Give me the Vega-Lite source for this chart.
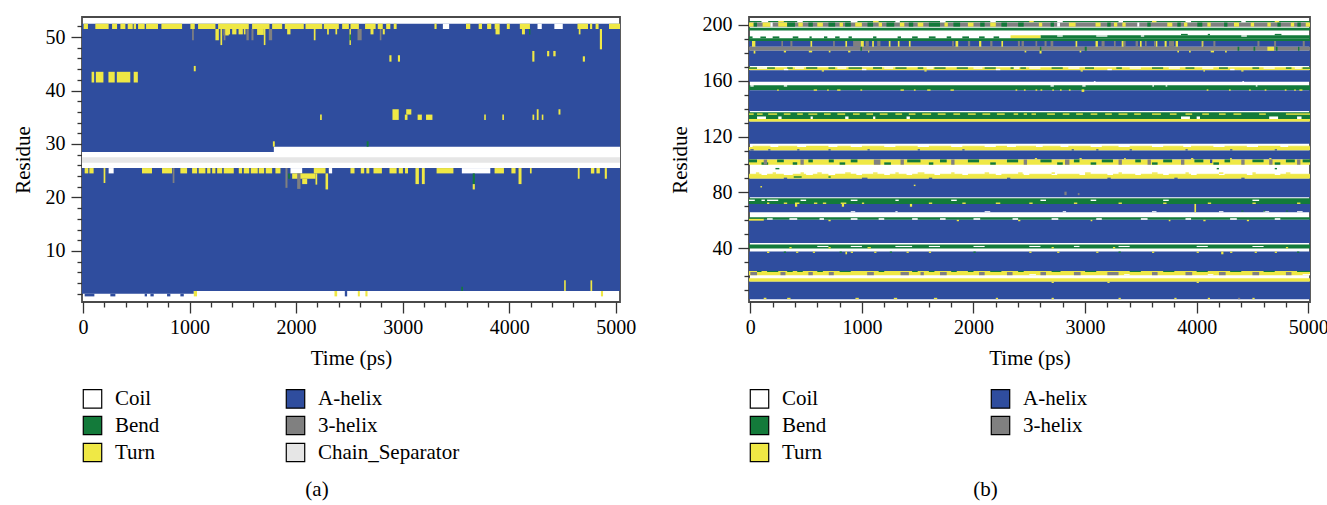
{
"$schema":"https://vega.github.io/schema/vega-lite/v6.json",
"background":"white",
"padding":{"left":11,"top":14,"right":15,"bottom":5},
"spacing":31,
"config":{"font":"Liberation Serif","view":{"stroke":"#4a4a4a","strokeWidth":1.8},
"axis":{"labelFont":"Liberation Serif","titleFont":"Liberation Serif","labelFontSize":20,"titleFontSize":21,"titleFontWeight":"normal","labelColor":"black","titleColor":"black","tickColor":"#333333","tickWidth":1.3,"domain":false,"grid":false,"labelOverlap":false,"labelFlush":false},
"legend":{"labelFont":"Liberation Serif","labelFontSize":21,"labelColor":"black","symbolType":"square","symbolStrokeColor":"black","symbolStrokeWidth":1.2,"symbolSize":340,"labelOffset":12,"rowPadding":2},
"title":{"font":"Liberation Serif","fontSize":21,"fontWeight":"normal","color":"black"}},
"resolve":{"scale":{"color":"independent"}},
"hconcat":[
{"width":538,"height":285,
"title":{"text":"(a)","orient":"bottom","anchor":"middle","dx":-34,"offset":14},
"data":{"values":[
{"ss":"A-helix","t0":-9,"t1":5039,"r0":2.5,"r1":52.5},
{"ss":"Coil","t0":-9,"t1":5039,"r0":25.5,"r1":28.5},
{"ss":"Coil","t0":1791,"t1":5039,"r0":28.5,"r1":29.5},
{"ss":"Chain_Separator","t0":-9,"t1":5039,"r0":26.5,"r1":27.5},
{"ss":"A-helix","t0":-9,"t1":1040,"r0":2.0,"r1":2.5},
{"ss":"A-helix","t0":16,"t1":107,"r0":1.5,"r1":2.0},
{"ss":"A-helix","t0":257,"t1":304,"r0":1.5,"r1":2.0},
{"ss":"A-helix","t0":579,"t1":601,"r0":1.5,"r1":2.0},
{"ss":"A-helix","t0":633,"t1":664,"r0":1.5,"r1":2.0},
{"ss":"A-helix","t0":789,"t1":820,"r0":1.5,"r1":2.0},
{"ss":"A-helix","t0":914,"t1":946,"r0":1.5,"r1":2.0},
{"ss":"Turn","t0":6,"t1":47,"r0":51.5,"r1":52.5},
{"ss":"Turn","t0":116,"t1":241,"r0":51.5,"r1":52.5},
{"ss":"Turn","t0":273,"t1":320,"r0":51.5,"r1":52.5},
{"ss":"Turn","t0":351,"t1":398,"r0":51.5,"r1":52.5},
{"ss":"Turn","t0":420,"t1":467,"r0":51.5,"r1":52.5},
{"ss":"Turn","t0":476,"t1":498,"r0":51.5,"r1":52.5},
{"ss":"Turn","t0":517,"t1":579,"r0":51.5,"r1":52.5},
{"ss":"Turn","t0":592,"t1":704,"r0":51.5,"r1":52.5},
{"ss":"Turn","t0":736,"t1":930,"r0":51.5,"r1":52.5},
{"ss":"Turn","t0":1008,"t1":1049,"r0":51.5,"r1":52.5},
{"ss":"Turn","t0":1080,"t1":1243,"r0":51.5,"r1":52.5},
{"ss":"Turn","t0":1268,"t1":1556,"r0":51.5,"r1":52.5},
{"ss":"Turn","t0":1587,"t1":1750,"r0":51.5,"r1":52.5},
{"ss":"Turn","t0":1775,"t1":1869,"r0":51.5,"r1":52.5},
{"ss":"Turn","t0":1894,"t1":2072,"r0":51.5,"r1":52.5},
{"ss":"Turn","t0":2088,"t1":2245,"r0":51.5,"r1":52.5},
{"ss":"Turn","t0":2260,"t1":2401,"r0":51.5,"r1":52.5},
{"ss":"Turn","t0":2432,"t1":2495,"r0":51.5,"r1":52.5},
{"ss":"Turn","t0":2510,"t1":2589,"r0":51.5,"r1":52.5},
{"ss":"Turn","t0":2647,"t1":2746,"r0":51.5,"r1":52.5},
{"ss":"Turn","t0":2766,"t1":2813,"r0":51.5,"r1":52.5},
{"ss":"Turn","t0":2845,"t1":2884,"r0":51.5,"r1":52.5},
{"ss":"Turn","t0":2916,"t1":2943,"r0":51.5,"r1":52.5},
{"ss":"Turn","t0":3298,"t1":3318,"r0":51.5,"r1":52.5},
{"ss":"Turn","t0":3594,"t1":3634,"r0":51.5,"r1":52.5},
{"ss":"Turn","t0":3713,"t1":3744,"r0":51.5,"r1":52.5},
{"ss":"Turn","t0":3792,"t1":3831,"r0":51.5,"r1":52.5},
{"ss":"Turn","t0":3863,"t1":3910,"r0":51.5,"r1":52.5},
{"ss":"Turn","t0":3977,"t1":4005,"r0":51.5,"r1":52.5},
{"ss":"Turn","t0":4099,"t1":4194,"r0":51.5,"r1":52.5},
{"ss":"Turn","t0":4640,"t1":4739,"r0":51.5,"r1":52.5},
{"ss":"Turn","t0":4758,"t1":4778,"r0":51.5,"r1":52.5},
{"ss":"Turn","t0":4810,"t1":4838,"r0":51.5,"r1":52.5},
{"ss":"Turn","t0":4936,"t1":5039,"r0":51.5,"r1":52.5},
{"ss":"Coil","t0":3377,"t1":3436,"r0":51.5,"r1":52.5},
{"ss":"Coil","t0":4265,"t1":4305,"r0":51.5,"r1":52.5},
{"ss":"Coil","t0":4423,"t1":4502,"r0":51.5,"r1":52.5},
{"ss":"Turn","t0":1243,"t1":1275,"r0":49.4,"r1":51.5},
{"ss":"Turn","t0":1290,"t1":1306,"r0":48.5,"r1":51.5},
{"ss":"3-helix","t0":1024,"t1":1040,"r0":49.4,"r1":51.5},
{"ss":"Turn","t0":1321,"t1":1368,"r0":50.3,"r1":51.5},
{"ss":"3-helix","t0":1321,"t1":1337,"r0":49.4,"r1":51.5},
{"ss":"Turn","t0":1337,"t1":1380,"r0":50.5,"r1":51.5},
{"ss":"Turn","t0":1400,"t1":1440,"r0":50.5,"r1":51.5},
{"ss":"Turn","t0":1460,"t1":1500,"r0":50.5,"r1":51.5},
{"ss":"Turn","t0":1510,"t1":1525,"r0":50.5,"r1":51.5},
{"ss":"3-helix","t0":1534,"t1":1556,"r0":49.4,"r1":51.5},
{"ss":"3-helix","t0":1581,"t1":1600,"r0":49.4,"r1":51.5},
{"ss":"Turn","t0":1634,"t1":1697,"r0":50.4,"r1":51.5},
{"ss":"Turn","t0":1697,"t1":1712,"r0":48.5,"r1":51.5},
{"ss":"3-helix","t0":1744,"t1":1775,"r0":49.4,"r1":51.5},
{"ss":"Turn","t0":1916,"t1":1947,"r0":50.5,"r1":51.5},
{"ss":"Turn","t0":2166,"t1":2182,"r0":49.4,"r1":51.5},
{"ss":"Turn","t0":2291,"t1":2307,"r0":50.5,"r1":51.5},
{"ss":"Turn","t0":2369,"t1":2385,"r0":50.5,"r1":51.5},
{"ss":"Turn","t0":2501,"t1":2514,"r0":48.5,"r1":51.5},
{"ss":"Bend","t0":2501,"t1":2514,"r0":49.4,"r1":50.5},
{"ss":"3-helix","t0":2576,"t1":2615,"r0":49.4,"r1":51.5},
{"ss":"Turn","t0":2698,"t1":2726,"r0":50.5,"r1":51.5},
{"ss":"3-helix","t0":2785,"t1":2800,"r0":49.4,"r1":51.5},
{"ss":"Turn","t0":2813,"t1":2832,"r0":50.5,"r1":51.5},
{"ss":"Turn","t0":3871,"t1":3910,"r0":50.5,"r1":51.5},
{"ss":"Turn","t0":4119,"t1":4147,"r0":50.5,"r1":51.5},
{"ss":"Turn","t0":4652,"t1":4668,"r0":50.5,"r1":51.5},
{"ss":"Turn","t0":4850,"t1":4870,"r0":47.7,"r1":51.5},
{"ss":"Bend","t0":4186,"t1":4198,"r0":50.5,"r1":51.5},
{"ss":"Turn","t0":81,"t1":105,"r0":41.5,"r1":43.5},
{"ss":"Turn","t0":121,"t1":192,"r0":41.5,"r1":43.5},
{"ss":"Turn","t0":239,"t1":298,"r0":41.5,"r1":43.5},
{"ss":"Turn","t0":318,"t1":444,"r0":41.5,"r1":43.5},
{"ss":"Turn","t0":476,"t1":515,"r0":41.5,"r1":43.5},
{"ss":"Turn","t0":1040,"t1":1058,"r0":43.6,"r1":44.6},
{"ss":"Turn","t0":2875,"t1":2895,"r0":45.4,"r1":46.6},
{"ss":"Turn","t0":2955,"t1":2975,"r0":45.4,"r1":46.6},
{"ss":"Turn","t0":4216,"t1":4236,"r0":45.4,"r1":47.4},
{"ss":"Turn","t0":4355,"t1":4375,"r0":46.4,"r1":47.4},
{"ss":"Turn","t0":4413,"t1":4435,"r0":46.4,"r1":47.4},
{"ss":"Turn","t0":4690,"t1":4710,"r0":45.4,"r1":46.4},
{"ss":"Turn","t0":2225,"t1":2241,"r0":34.5,"r1":35.5},
{"ss":"Turn","t0":2904,"t1":2963,"r0":34.5,"r1":36.5},
{"ss":"Turn","t0":3033,"t1":3081,"r0":35.5,"r1":36.5},
{"ss":"Turn","t0":3020,"t1":3045,"r0":34.5,"r1":35.5},
{"ss":"Turn","t0":3140,"t1":3180,"r0":34.5,"r1":35.5},
{"ss":"Turn","t0":3219,"t1":3279,"r0":34.5,"r1":35.5},
{"ss":"Turn","t0":3765,"t1":3780,"r0":34.5,"r1":35.5},
{"ss":"Turn","t0":3935,"t1":3950,"r0":34.5,"r1":35.5},
{"ss":"Turn","t0":4218,"t1":4234,"r0":34.5,"r1":35.5},
{"ss":"Turn","t0":4305,"t1":4320,"r0":34.5,"r1":35.5},
{"ss":"Turn","t0":4258,"t1":4275,"r0":34.5,"r1":36.5},
{"ss":"Turn","t0":4462,"t1":4480,"r0":35.5,"r1":36.5},
{"ss":"Turn","t0":1782,"t1":1800,"r0":29.5,"r1":30.5},
{"ss":"Bend","t0":2662,"t1":2680,"r0":29.5,"r1":30.5},
{"ss":"Turn","t0":16,"t1":50,"r0":24.5,"r1":25.5},
{"ss":"Turn","t0":60,"t1":100,"r0":24.5,"r1":25.5},
{"ss":"Turn","t0":194,"t1":210,"r0":22.7,"r1":25.5},
{"ss":"Coil","t0":241,"t1":288,"r0":24.5,"r1":25.5},
{"ss":"Turn","t0":554,"t1":648,"r0":24.5,"r1":25.5},
{"ss":"Turn","t0":742,"t1":836,"r0":24.5,"r1":25.5},
{"ss":"3-helix","t0":842,"t1":858,"r0":22.7,"r1":25.5},
{"ss":"Turn","t0":914,"t1":977,"r0":24.5,"r1":25.5},
{"ss":"Turn","t0":1024,"t1":1071,"r0":24.5,"r1":25.5},
{"ss":"Turn","t0":1086,"t1":1149,"r0":24.5,"r1":25.5},
{"ss":"Turn","t0":1165,"t1":1196,"r0":24.5,"r1":25.5},
{"ss":"Turn","t0":1212,"t1":1243,"r0":24.5,"r1":25.5},
{"ss":"Turn","t0":1259,"t1":1306,"r0":24.5,"r1":25.5},
{"ss":"Turn","t0":1321,"t1":1415,"r0":24.5,"r1":25.5},
{"ss":"Turn","t0":1462,"t1":1493,"r0":24.5,"r1":25.5},
{"ss":"Turn","t0":1509,"t1":1560,"r0":24.5,"r1":25.5},
{"ss":"Turn","t0":1575,"t1":1640,"r0":24.5,"r1":25.5},
{"ss":"Turn","t0":1650,"t1":1700,"r0":24.5,"r1":25.5},
{"ss":"Turn","t0":1715,"t1":1775,"r0":24.5,"r1":25.5},
{"ss":"Turn","t0":1806,"t1":1853,"r0":24.5,"r1":25.5},
{"ss":"3-helix","t0":1900,"t1":1919,"r0":21.8,"r1":25.5},
{"ss":"Coil","t0":1947,"t1":2057,"r0":24.5,"r1":25.5},
{"ss":"Turn","t0":1963,"t1":2182,"r0":23.5,"r1":24.5},
{"ss":"Bend","t0":1925,"t1":1941,"r0":23.5,"r1":24.5},
{"ss":"3-helix","t0":2010,"t1":2041,"r0":21.6,"r1":24.5},
{"ss":"Turn","t0":2057,"t1":2104,"r0":22.5,"r1":23.5},
{"ss":"Turn","t0":2166,"t1":2276,"r0":24.5,"r1":25.5},
{"ss":"Turn","t0":2182,"t1":2198,"r0":22.4,"r1":24.5},
{"ss":"Turn","t0":2276,"t1":2300,"r0":21.5,"r1":24.5},
{"ss":"Coil","t0":2307,"t1":2338,"r0":24.5,"r1":25.5},
{"ss":"Turn","t0":2510,"t1":2548,"r0":24.5,"r1":25.5},
{"ss":"Turn","t0":2607,"t1":2639,"r0":24.5,"r1":25.5},
{"ss":"Turn","t0":2659,"t1":2687,"r0":24.5,"r1":25.5},
{"ss":"Turn","t0":2726,"t1":2805,"r0":24.5,"r1":25.5},
{"ss":"Turn","t0":2876,"t1":2943,"r0":24.5,"r1":25.5},
{"ss":"Turn","t0":2963,"t1":3002,"r0":24.5,"r1":25.5},
{"ss":"Turn","t0":3022,"t1":3050,"r0":24.5,"r1":25.5},
{"ss":"Turn","t0":3120,"t1":3152,"r0":22.5,"r1":25.5},
{"ss":"Turn","t0":3180,"t1":3207,"r0":22.5,"r1":25.5},
{"ss":"Turn","t0":3318,"t1":3476,"r0":24.5,"r1":25.5},
{"ss":"Coil","t0":3555,"t1":3822,"r0":24.5,"r1":25.5},
{"ss":"Bend","t0":3657,"t1":3677,"r0":22.5,"r1":24.5},
{"ss":"Turn","t0":3657,"t1":3677,"r0":21.5,"r1":22.5},
{"ss":"Turn","t0":3862,"t1":3950,"r0":24.5,"r1":25.5},
{"ss":"Turn","t0":4020,"t1":4059,"r0":24.5,"r1":25.5},
{"ss":"Turn","t0":4087,"t1":4115,"r0":22.5,"r1":25.5},
{"ss":"Turn","t0":4194,"t1":4210,"r0":24.5,"r1":25.5},
{"ss":"Turn","t0":4643,"t1":4660,"r0":23.5,"r1":25.5},
{"ss":"Turn","t0":4766,"t1":4798,"r0":24.5,"r1":25.5},
{"ss":"Turn","t0":4818,"t1":4850,"r0":24.5,"r1":25.5},
{"ss":"Turn","t0":4896,"t1":4916,"r0":23.5,"r1":25.5},
{"ss":"Turn","t0":1040,"t1":1070,"r0":1.5,"r1":2.5},
{"ss":"Turn","t0":2360,"t1":2385,"r0":1.5,"r1":2.5},
{"ss":"A-helix","t0":2457,"t1":2479,"r0":1.5,"r1":2.5},
{"ss":"Turn","t0":2579,"t1":2598,"r0":1.5,"r1":2.5},
{"ss":"Turn","t0":2650,"t1":2670,"r0":1.5,"r1":2.5},
{"ss":"Turn","t0":4860,"t1":4880,"r0":1.5,"r1":2.5},
{"ss":"Turn","t0":4515,"t1":4530,"r0":2.5,"r1":4.5},
{"ss":"Turn","t0":4762,"t1":4778,"r0":2.5,"r1":4.5},
{"ss":"Bend","t0":3550,"t1":3565,"r0":2.5,"r1":3.3}
]},
"mark":{"type":"rect","strokeWidth":0,"clip":true},
"encoding":{
"x":{"field":"t0","type":"quantitative","scale":{"domain":[-9,5039],"nice":false,"zero":false},
"axis":{"title":"Time (ps)","values":[0,200,400,600,800,1000,1200,1400,1600,1800,2000,2200,2400,2600,2800,3000,3200,3400,3600,3800,4000,4200,4400,4600,4800,5000],"format":"d","labelExpr":"datum.value % 1000 === 0 ? datum.label : ''","tickSize":{"condition":{"test":"datum.value % 1000 === 0","value":11},"value":5},"labelPadding":4,"titlePadding":10}},
"x2":{"field":"t1"},
"y":{"field":"r0","type":"quantitative","scale":{"domain":[0.45,53.75],"nice":false,"zero":false},
"axis":{"title":"Residue","values":[2,4,6,8,10,12,14,16,18,20,22,24,26,28,30,32,34,36,38,40,42,44,46,48,50,52],"format":"d","labelExpr":"datum.value % 10 === 0 ? datum.label : ''","tickSize":{"condition":{"test":"datum.value % 10 === 0","value":11},"value":5},"labelPadding":6,"titlePadding":12}},
"y2":{"field":"r1"},
"color":{"field":"ss","type":"nominal","scale":{"domain":["Coil","Bend","Turn","A-helix","3-helix","Chain_Separator"],"range":["#ffffff","#137a3a","#efe845","#2f4d9e","#808080","#e6e6e6"]},
"legend":{"title":null,"orient":"none","legendX":0,"legendY":371,"columns":2,"columnPadding":123}}
}},
{"width":561,"height":285,
"title":{"text":"(b)","orient":"bottom","anchor":"middle","dx":-44,"offset":14},
"data":{"values":[
{"ss":"Bend","t0":-12,"t1":5016,"r0":201.9,"r1":202.9},
{"ss":"3-helix","t0":-12,"t1":5016,"r0":198.8,"r1":201.7},
{"ss":"Bend","t0":-12,"t1":5016,"r0":196,"r1":198},
{"ss":"Bend","t0":2600,"t1":5016,"r0":190.4,"r1":192.6},
{"ss":"Turn","t0":2332,"t1":2600,"r0":190.4,"r1":192.6},
{"ss":"Bend","t0":-12,"t1":5016,"r0":188.5,"r1":190.4},
{"ss":"A-helix","t0":-12,"t1":5016,"r0":184.4,"r1":188.5},
{"ss":"3-helix","t0":-12,"t1":5016,"r0":181.5,"r1":184.4},
{"ss":"A-helix","t0":-12,"t1":5016,"r0":170.5,"r1":181.5},
{"ss":"Turn","t0":-12,"t1":5016,"r0":167.6,"r1":169.6},
{"ss":"A-helix","t0":-12,"t1":5016,"r0":159.2,"r1":167.6},
{"ss":"Bend","t0":-12,"t1":5016,"r0":153.2,"r1":156.8},
{"ss":"A-helix","t0":-12,"t1":5016,"r0":138.3,"r1":153.2},
{"ss":"Bend","t0":-12,"t1":5016,"r0":132.6,"r1":137.4},
{"ss":"Turn","t0":-12,"t1":5016,"r0":130.7,"r1":132.6},
{"ss":"A-helix","t0":-12,"t1":5016,"r0":114.9,"r1":130.7},
{"ss":"Turn","t0":-12,"t1":5016,"r0":110,"r1":112.6},
{"ss":"A-helix","t0":-12,"t1":5016,"r0":103.6,"r1":110},
{"ss":"Turn","t0":-12,"t1":5016,"r0":99.8,"r1":103.6},
{"ss":"Turn","t0":-12,"t1":5016,"r0":89.7,"r1":92.5},
{"ss":"A-helix","t0":-12,"t1":5016,"r0":76.5,"r1":89.7},
{"ss":"Bend","t0":-12,"t1":5016,"r0":71.7,"r1":75.8},
{"ss":"A-helix","t0":-12,"t1":5016,"r0":65.7,"r1":71.7},
{"ss":"Bend","t0":-12,"t1":5016,"r0":60.3,"r1":62.1},
{"ss":"A-helix","t0":-12,"t1":5016,"r0":43.7,"r1":60.3},
{"ss":"Bend","t0":-12,"t1":5016,"r0":39.8,"r1":42.7},
{"ss":"A-helix","t0":-12,"t1":5016,"r0":23.7,"r1":37.6},
{"ss":"Turn","t0":-12,"t1":5016,"r0":20.6,"r1":23.7},
{"ss":"Turn","t0":-12,"t1":5016,"r0":16,"r1":18.5},
{"ss":"A-helix","t0":-12,"t1":5016,"r0":3.4,"r1":16},
{"ss":"Coil","t0":100,"t1":160,"r0":201.9,"r1":202.9},
{"ss":"Coil","t0":420,"t1":470,"r0":201.9,"r1":202.9},
{"ss":"Coil","t0":900,"t1":960,"r0":201.9,"r1":202.9},
{"ss":"Coil","t0":1300,"t1":1340,"r0":201.9,"r1":202.9},
{"ss":"Coil","t0":1700,"t1":1750,"r0":201.9,"r1":202.9},
{"ss":"Coil","t0":2150,"t1":2200,"r0":201.9,"r1":202.9},
{"ss":"Coil","t0":2750,"t1":2800,"r0":201.9,"r1":202.9},
{"ss":"Coil","t0":3300,"t1":3340,"r0":201.9,"r1":202.9},
{"ss":"Coil","t0":3900,"t1":3950,"r0":201.9,"r1":202.9},
{"ss":"Coil","t0":4400,"t1":4440,"r0":201.9,"r1":202.9},
{"ss":"Turn","t0":250,"t1":300,"r0":201.9,"r1":202.9},
{"ss":"Turn","t0":1100,"t1":1150,"r0":201.9,"r1":202.9},
{"ss":"Turn","t0":2500,"t1":2540,"r0":201.9,"r1":202.9},
{"ss":"Turn","t0":3600,"t1":3640,"r0":201.9,"r1":202.9},
{"ss":"Turn","t0":4700,"t1":4740,"r0":201.9,"r1":202.9},
{"ss":"Turn","t0":-12,"t1":30,"r0":198.8,"r1":201.7},
{"ss":"Turn","t0":110,"t1":180,"r0":198.8,"r1":201.7},
{"ss":"Turn","t0":250,"t1":330,"r0":198.8,"r1":201.7},
{"ss":"Turn","t0":430,"t1":470,"r0":198.8,"r1":201.7},
{"ss":"Turn","t0":600,"t1":650,"r0":198.8,"r1":201.7},
{"ss":"Turn","t0":800,"t1":830,"r0":198.8,"r1":201.7},
{"ss":"Turn","t0":940,"t1":1000,"r0":198.8,"r1":201.7},
{"ss":"Turn","t0":1150,"t1":1180,"r0":198.8,"r1":201.7},
{"ss":"Turn","t0":1340,"t1":1380,"r0":198.8,"r1":201.7},
{"ss":"Turn","t0":1500,"t1":1550,"r0":198.8,"r1":201.7},
{"ss":"Turn","t0":1740,"t1":1770,"r0":198.8,"r1":201.7},
{"ss":"Turn","t0":1950,"t1":2000,"r0":198.8,"r1":201.7},
{"ss":"Turn","t0":2150,"t1":2200,"r0":198.8,"r1":201.7},
{"ss":"Turn","t0":2586,"t1":2616,"r0":198.8,"r1":201.7},
{"ss":"Turn","t0":2855,"t1":2915,"r0":198.8,"r1":201.7},
{"ss":"Turn","t0":3094,"t1":3139,"r0":198.8,"r1":201.7},
{"ss":"Turn","t0":3259,"t1":3289,"r0":198.8,"r1":201.7},
{"ss":"Turn","t0":3334,"t1":3364,"r0":198.8,"r1":201.7},
{"ss":"Turn","t0":3737,"t1":3782,"r0":198.8,"r1":201.7},
{"ss":"Turn","t0":3887,"t1":3917,"r0":198.8,"r1":201.7},
{"ss":"Turn","t0":4096,"t1":4126,"r0":198.8,"r1":201.7},
{"ss":"Turn","t0":4335,"t1":4380,"r0":198.8,"r1":201.7},
{"ss":"Turn","t0":4485,"t1":4515,"r0":198.8,"r1":201.7},
{"ss":"Turn","t0":4634,"t1":4664,"r0":198.8,"r1":201.7},
{"ss":"Turn","t0":4844,"t1":4874,"r0":198.8,"r1":201.7},
{"ss":"Turn","t0":4978,"t1":5016,"r0":198.8,"r1":201.7},
{"ss":"Bend","t0":30,"t1":60,"r0":198.8,"r1":201.7},
{"ss":"Bend","t0":330,"t1":400,"r0":198.8,"r1":201.7},
{"ss":"Bend","t0":520,"t1":560,"r0":198.8,"r1":201.7},
{"ss":"Bend","t0":700,"t1":760,"r0":198.8,"r1":201.7},
{"ss":"Bend","t0":850,"t1":900,"r0":198.8,"r1":201.7},
{"ss":"Bend","t0":1050,"t1":1100,"r0":198.8,"r1":201.7},
{"ss":"Bend","t0":1220,"t1":1290,"r0":198.8,"r1":201.7},
{"ss":"Bend","t0":1420,"t1":1460,"r0":198.8,"r1":201.7},
{"ss":"Bend","t0":1600,"t1":1700,"r0":198.8,"r1":201.7},
{"ss":"Bend","t0":1820,"t1":1880,"r0":198.8,"r1":201.7},
{"ss":"Bend","t0":2060,"t1":2100,"r0":198.8,"r1":201.7},
{"ss":"Bend","t0":2250,"t1":2300,"r0":198.8,"r1":201.7},
{"ss":"Bend","t0":2400,"t1":2450,"r0":198.8,"r1":201.7},
{"ss":"Bend","t0":2691,"t1":2721,"r0":198.8,"r1":201.7},
{"ss":"Bend","t0":3199,"t1":3229,"r0":198.8,"r1":201.7},
{"ss":"Bend","t0":3558,"t1":3588,"r0":198.8,"r1":201.7},
{"ss":"Bend","t0":3827,"t1":3857,"r0":198.8,"r1":201.7},
{"ss":"Bend","t0":4006,"t1":4051,"r0":198.8,"r1":201.7},
{"ss":"Bend","t0":4246,"t1":4276,"r0":198.8,"r1":201.7},
{"ss":"Bend","t0":4724,"t1":4754,"r0":198.8,"r1":201.7},
{"ss":"Bend","t0":4903,"t1":4933,"r0":198.8,"r1":201.7},
{"ss":"Coil","t0":180,"t1":200,"r0":198.8,"r1":201.7},
{"ss":"Coil","t0":2750,"t1":2775,"r0":198.8,"r1":201.7},
{"ss":"Coil","t0":3468,"t1":3486,"r0":198.8,"r1":201.7},
{"ss":"Bend","t0":-12,"t1":20,"r0":190.4,"r1":191.8},
{"ss":"Bend","t0":90,"t1":140,"r0":190.4,"r1":191.8},
{"ss":"Bend","t0":200,"t1":260,"r0":190.4,"r1":191.8},
{"ss":"Bend","t0":380,"t1":430,"r0":190.4,"r1":191.8},
{"ss":"Bend","t0":530,"t1":550,"r0":190.4,"r1":191.8},
{"ss":"Bend","t0":660,"t1":690,"r0":190.4,"r1":191.8},
{"ss":"Bend","t0":760,"t1":800,"r0":190.4,"r1":191.8},
{"ss":"Bend","t0":880,"t1":910,"r0":190.4,"r1":191.8},
{"ss":"Bend","t0":1100,"t1":1130,"r0":190.4,"r1":191.8},
{"ss":"Bend","t0":1320,"t1":1350,"r0":190.4,"r1":191.8},
{"ss":"Bend","t0":1450,"t1":1500,"r0":190.4,"r1":191.8},
{"ss":"Bend","t0":1600,"t1":1660,"r0":190.4,"r1":191.8},
{"ss":"Bend","t0":1760,"t1":1800,"r0":190.4,"r1":191.8},
{"ss":"Bend","t0":1900,"t1":1960,"r0":190.4,"r1":191.8},
{"ss":"Bend","t0":2050,"t1":2100,"r0":190.4,"r1":191.8},
{"ss":"Bend","t0":2180,"t1":2230,"r0":190.4,"r1":191.8},
{"ss":"Coil","t0":2750,"t1":2800,"r0":191.6,"r1":192.6},
{"ss":"Coil","t0":3100,"t1":3200,"r0":191.6,"r1":192.6},
{"ss":"Coil","t0":3500,"t1":3530,"r0":191.6,"r1":192.6},
{"ss":"Coil","t0":4400,"t1":4450,"r0":191.6,"r1":192.6},
{"ss":"Bend","t0":3860,"t1":3920,"r0":192.6,"r1":193.6},
{"ss":"Bend","t0":4100,"t1":4120,"r0":192.6,"r1":193.6},
{"ss":"Bend","t0":4700,"t1":4760,"r0":192.6,"r1":193.6},
{"ss":"Turn","t0":15,"t1":45,"r0":184.4,"r1":188.5},
{"ss":"Turn","t0":539,"t1":554,"r0":184.4,"r1":188.5},
{"ss":"Turn","t0":852,"t1":867,"r0":184.4,"r1":188.5},
{"ss":"Turn","t0":987,"t1":1017,"r0":184.4,"r1":188.5},
{"ss":"Turn","t0":1092,"t1":1107,"r0":184.4,"r1":188.5},
{"ss":"Turn","t0":1241,"t1":1256,"r0":184.4,"r1":188.5},
{"ss":"Turn","t0":1322,"t1":1337,"r0":184.4,"r1":188.5},
{"ss":"Turn","t0":1421,"t1":1436,"r0":184.4,"r1":188.5},
{"ss":"Turn","t0":1839,"t1":1863,"r0":184.4,"r1":188.5},
{"ss":"Turn","t0":2050,"t1":2070,"r0":184.4,"r1":188.5},
{"ss":"Turn","t0":2250,"t1":2265,"r0":184.4,"r1":188.5},
{"ss":"Turn","t0":2915,"t1":2930,"r0":184.4,"r1":188.5},
{"ss":"Turn","t0":3094,"t1":3115,"r0":184.4,"r1":188.5},
{"ss":"Turn","t0":3328,"t1":3346,"r0":184.4,"r1":188.5},
{"ss":"Turn","t0":3492,"t1":3507,"r0":184.4,"r1":188.5},
{"ss":"Turn","t0":3633,"t1":3648,"r0":184.4,"r1":188.5},
{"ss":"Turn","t0":3713,"t1":3731,"r0":184.4,"r1":188.5},
{"ss":"Turn","t0":3812,"t1":3833,"r0":184.4,"r1":188.5},
{"ss":"Turn","t0":4045,"t1":4056,"r0":184.4,"r1":188.5},
{"ss":"3-helix","t0":278,"t1":293,"r0":184.4,"r1":188.5},
{"ss":"3-helix","t0":359,"t1":377,"r0":184.4,"r1":188.5},
{"ss":"3-helix","t0":742,"t1":757,"r0":184.4,"r1":188.5},
{"ss":"3-helix","t0":921,"t1":987,"r0":184.4,"r1":188.5},
{"ss":"3-helix","t0":1032,"t1":1062,"r0":184.4,"r1":188.5},
{"ss":"3-helix","t0":1137,"t1":1166,"r0":184.4,"r1":188.5},
{"ss":"3-helix","t0":1809,"t1":1824,"r0":184.4,"r1":188.5},
{"ss":"3-helix","t0":1950,"t1":1970,"r0":184.4,"r1":188.5},
{"ss":"3-helix","t0":2150,"t1":2170,"r0":184.4,"r1":188.5},
{"ss":"3-helix","t0":2398,"t1":2416,"r0":184.4,"r1":188.5},
{"ss":"3-helix","t0":2431,"t1":2452,"r0":184.4,"r1":188.5},
{"ss":"3-helix","t0":2556,"t1":2571,"r0":184.4,"r1":188.5},
{"ss":"3-helix","t0":2637,"t1":2655,"r0":184.4,"r1":188.5},
{"ss":"3-helix","t0":2691,"t1":2715,"r0":184.4,"r1":188.5},
{"ss":"3-helix","t0":3148,"t1":3175,"r0":184.4,"r1":188.5},
{"ss":"3-helix","t0":3259,"t1":3274,"r0":184.4,"r1":188.5},
{"ss":"3-helix","t0":3346,"t1":3364,"r0":184.4,"r1":188.5},
{"ss":"3-helix","t0":3453,"t1":3474,"r0":184.4,"r1":188.5},
{"ss":"3-helix","t0":3537,"t1":3552,"r0":184.4,"r1":188.5},
{"ss":"3-helix","t0":3618,"t1":3633,"r0":184.4,"r1":188.5},
{"ss":"3-helix","t0":3752,"t1":3797,"r0":184.4,"r1":188.5},
{"ss":"3-helix","t0":4056,"t1":4066,"r0":184.4,"r1":188.5},
{"ss":"3-helix","t0":4150,"t1":4168,"r0":184.4,"r1":188.5},
{"ss":"3-helix","t0":4545,"t1":4563,"r0":184.4,"r1":188.5},
{"ss":"3-helix","t0":4694,"t1":4712,"r0":184.4,"r1":188.5},
{"ss":"3-helix","t0":4951,"t1":4969,"r0":184.4,"r1":188.5},
{"ss":"Bend","t0":987,"t1":1000,"r0":181.5,"r1":184.4},
{"ss":"Bend","t0":2595,"t1":2608,"r0":181.5,"r1":184.4},
{"ss":"Bend","t0":2997,"t1":3015,"r0":181.5,"r1":184.4},
{"ss":"Bend","t0":4367,"t1":4382,"r0":181.5,"r1":184.4},
{"ss":"Bend","t0":4510,"t1":4525,"r0":181.5,"r1":184.4},
{"ss":"Turn","t0":4634,"t1":4694,"r0":181.5,"r1":184.4},
{"ss":"Bend","t0":4710,"t1":4725,"r0":181.5,"r1":184.4},
{"ss":"Bend","t0":4909,"t1":4921,"r0":181.5,"r1":184.4},
{"ss":"Turn","t0":30,"t1":45,"r0":179.5,"r1":181.5},
{"ss":"Turn","t0":300,"t1":320,"r0":180.3,"r1":181.5},
{"ss":"Turn","t0":524,"t1":554,"r0":180.3,"r1":181.5},
{"ss":"Turn","t0":703,"t1":718,"r0":180.3,"r1":181.5},
{"ss":"Turn","t0":876,"t1":897,"r0":180.3,"r1":181.5},
{"ss":"Turn","t0":1056,"t1":1066,"r0":180.3,"r1":181.5},
{"ss":"Turn","t0":2458,"t1":2473,"r0":180.3,"r1":181.5},
{"ss":"Turn","t0":2592,"t1":2610,"r0":179.5,"r1":181.5},
{"ss":"Turn","t0":2951,"t1":2966,"r0":180.3,"r1":181.5},
{"ss":"Turn","t0":3827,"t1":3842,"r0":180.3,"r1":181.5},
{"ss":"Turn","t0":3932,"t1":3947,"r0":180.3,"r1":181.5},
{"ss":"Turn","t0":4126,"t1":4156,"r0":180.3,"r1":181.5},
{"ss":"Turn","t0":4255,"t1":4270,"r0":180.3,"r1":181.5},
{"ss":"Bend","t0":-12,"t1":60,"r0":168.6,"r1":169.6},
{"ss":"Bend","t0":150,"t1":220,"r0":168.6,"r1":169.6},
{"ss":"Bend","t0":330,"t1":380,"r0":168.6,"r1":169.6},
{"ss":"Bend","t0":500,"t1":600,"r0":168.6,"r1":169.6},
{"ss":"Bend","t0":700,"t1":760,"r0":168.6,"r1":169.6},
{"ss":"Bend","t0":880,"t1":1000,"r0":168.6,"r1":169.6},
{"ss":"Bend","t0":1100,"t1":1180,"r0":168.6,"r1":169.6},
{"ss":"Bend","t0":1300,"t1":1400,"r0":168.6,"r1":169.6},
{"ss":"Bend","t0":1500,"t1":1550,"r0":168.6,"r1":169.6},
{"ss":"Bend","t0":1650,"t1":1750,"r0":168.6,"r1":169.6},
{"ss":"Bend","t0":1850,"t1":1950,"r0":168.6,"r1":169.6},
{"ss":"Bend","t0":2100,"t1":2200,"r0":168.6,"r1":169.6},
{"ss":"Bend","t0":2332,"t1":2360,"r0":168.6,"r1":169.6},
{"ss":"Bend","t0":2420,"t1":2470,"r0":168.6,"r1":169.6},
{"ss":"Bend","t0":2700,"t1":2800,"r0":168.6,"r1":169.6},
{"ss":"Bend","t0":3000,"t1":3080,"r0":168.6,"r1":169.6},
{"ss":"Bend","t0":3280,"t1":3330,"r0":168.6,"r1":169.6},
{"ss":"Bend","t0":3600,"t1":3700,"r0":168.6,"r1":169.6},
{"ss":"Bend","t0":3900,"t1":3980,"r0":168.6,"r1":169.6},
{"ss":"Bend","t0":4200,"t1":4280,"r0":168.6,"r1":169.6},
{"ss":"Bend","t0":4500,"t1":4560,"r0":168.6,"r1":169.6},
{"ss":"Bend","t0":4800,"t1":4850,"r0":168.6,"r1":169.6},
{"ss":"Bend","t0":4950,"t1":5016,"r0":168.6,"r1":169.6},
{"ss":"Coil","t0":60,"t1":150,"r0":168.6,"r1":169.6},
{"ss":"Coil","t0":400,"t1":480,"r0":168.6,"r1":169.6},
{"ss":"Coil","t0":780,"t1":860,"r0":168.6,"r1":169.6},
{"ss":"Coil","t0":1200,"t1":1280,"r0":168.6,"r1":169.6},
{"ss":"Coil","t0":1580,"t1":1640,"r0":168.6,"r1":169.6},
{"ss":"Coil","t0":2000,"t1":2080,"r0":168.6,"r1":169.6},
{"ss":"Coil","t0":2362,"t1":2410,"r0":168.6,"r1":169.6},
{"ss":"Coil","t0":2500,"t1":2600,"r0":168.6,"r1":169.6},
{"ss":"Coil","t0":2850,"t1":2950,"r0":168.6,"r1":169.6},
{"ss":"Coil","t0":3400,"t1":3500,"r0":168.6,"r1":169.6},
{"ss":"Coil","t0":3750,"t1":3850,"r0":168.6,"r1":169.6},
{"ss":"Coil","t0":4050,"t1":4150,"r0":168.6,"r1":169.6},
{"ss":"Coil","t0":4600,"t1":4700,"r0":168.6,"r1":169.6},
{"ss":"Coil","t0":4880,"t1":4940,"r0":168.6,"r1":169.6},
{"ss":"Coil","t0":300,"t1":340,"r0":167.6,"r1":168.6},
{"ss":"Coil","t0":1000,"t1":1040,"r0":167.6,"r1":168.6},
{"ss":"Coil","t0":2200,"t1":2240,"r0":167.6,"r1":168.6},
{"ss":"Coil","t0":3200,"t1":3240,"r0":167.6,"r1":168.6},
{"ss":"Coil","t0":4300,"t1":4340,"r0":167.6,"r1":168.6},
{"ss":"Turn","t0":640,"t1":660,"r0":166.6,"r1":167.6},
{"ss":"Turn","t0":1560,"t1":1580,"r0":166.6,"r1":167.6},
{"ss":"Turn","t0":2960,"t1":2980,"r0":166.6,"r1":167.6},
{"ss":"Turn","t0":4060,"t1":4075,"r0":166.6,"r1":167.6},
{"ss":"Turn","t0":4400,"t1":4420,"r0":166.6,"r1":167.6},
{"ss":"Coil","t0":3079,"t1":3094,"r0":159.2,"r1":159.8},
{"ss":"Coil","t0":4410,"t1":4425,"r0":159.2,"r1":159.8},
{"ss":"Turn","t0":240,"t1":255,"r0":152.8,"r1":153.8},
{"ss":"Turn","t0":568,"t1":598,"r0":152.8,"r1":153.8},
{"ss":"Turn","t0":688,"t1":703,"r0":152.8,"r1":153.8},
{"ss":"Turn","t0":778,"t1":808,"r0":152.8,"r1":153.8},
{"ss":"Turn","t0":987,"t1":1002,"r0":152.8,"r1":153.8},
{"ss":"Turn","t0":1346,"t1":1376,"r0":152.8,"r1":153.8},
{"ss":"Turn","t0":1466,"t1":1481,"r0":152.8,"r1":153.8},
{"ss":"Turn","t0":1585,"t1":1615,"r0":152.8,"r1":153.8},
{"ss":"Turn","t0":1794,"t1":1824,"r0":152.8,"r1":153.8},
{"ss":"Turn","t0":2377,"t1":2392,"r0":152.8,"r1":153.8},
{"ss":"Turn","t0":2452,"t1":2467,"r0":152.8,"r1":153.8},
{"ss":"Turn","t0":2556,"t1":2571,"r0":152.8,"r1":153.8},
{"ss":"Turn","t0":2601,"t1":2616,"r0":152.8,"r1":153.8},
{"ss":"Turn","t0":2706,"t1":2721,"r0":152.8,"r1":153.8},
{"ss":"Turn","t0":2775,"t1":2790,"r0":152.8,"r1":153.8},
{"ss":"Turn","t0":2855,"t1":2870,"r0":152.8,"r1":153.8},
{"ss":"Turn","t0":2969,"t1":2993,"r0":152,"r1":153.8},
{"ss":"Turn","t0":4090,"t1":4105,"r0":152.8,"r1":153.8},
{"ss":"Turn","t0":4290,"t1":4305,"r0":152.8,"r1":153.8},
{"ss":"Turn","t0":4470,"t1":4485,"r0":152.8,"r1":153.8},
{"ss":"Turn","t0":4610,"t1":4625,"r0":152.8,"r1":153.8},
{"ss":"Turn","t0":4790,"t1":4805,"r0":152.8,"r1":153.8},
{"ss":"Turn","t0":4874,"t1":4889,"r0":152.8,"r1":153.8},
{"ss":"Turn","t0":4921,"t1":4948,"r0":152.8,"r1":153.8},
{"ss":"Coil","t0":0,"t1":30,"r0":155.8,"r1":156.8},
{"ss":"Coil","t0":300,"t1":330,"r0":155.8,"r1":156.8},
{"ss":"Coil","t0":2690,"t1":2720,"r0":155.8,"r1":156.8},
{"ss":"Coil","t0":2975,"t1":3005,"r0":155.8,"r1":156.8},
{"ss":"Coil","t0":3603,"t1":3618,"r0":155.8,"r1":156.8},
{"ss":"Coil","t0":3722,"t1":3737,"r0":155.8,"r1":156.8},
{"ss":"Coil","t0":4530,"t1":4545,"r0":155.8,"r1":156.8},
{"ss":"Turn","t0":-12,"t1":30,"r0":135.6,"r1":136.6},
{"ss":"Turn","t0":60,"t1":110,"r0":135.6,"r1":136.6},
{"ss":"Turn","t0":160,"t1":240,"r0":135.6,"r1":136.6},
{"ss":"Turn","t0":300,"t1":360,"r0":135.6,"r1":136.6},
{"ss":"Turn","t0":420,"t1":470,"r0":135.6,"r1":136.6},
{"ss":"Turn","t0":520,"t1":600,"r0":135.6,"r1":136.6},
{"ss":"Turn","t0":660,"t1":720,"r0":135.6,"r1":136.6},
{"ss":"Turn","t0":780,"t1":850,"r0":135.6,"r1":136.6},
{"ss":"Turn","t0":920,"t1":980,"r0":135.6,"r1":136.6},
{"ss":"Turn","t0":1040,"t1":1100,"r0":135.6,"r1":136.6},
{"ss":"Turn","t0":1160,"t1":1230,"r0":135.6,"r1":136.6},
{"ss":"Turn","t0":1300,"t1":1360,"r0":135.6,"r1":136.6},
{"ss":"Turn","t0":1420,"t1":1480,"r0":135.6,"r1":136.6},
{"ss":"Turn","t0":1540,"t1":1620,"r0":135.6,"r1":136.6},
{"ss":"Turn","t0":1680,"t1":1750,"r0":135.6,"r1":136.6},
{"ss":"Turn","t0":1820,"t1":1880,"r0":135.6,"r1":136.6},
{"ss":"Turn","t0":1950,"t1":2020,"r0":135.6,"r1":136.6},
{"ss":"Turn","t0":2080,"t1":2150,"r0":135.6,"r1":136.6},
{"ss":"Turn","t0":2210,"t1":2280,"r0":135.6,"r1":136.6},
{"ss":"Turn","t0":2360,"t1":2400,"r0":135.6,"r1":136.6},
{"ss":"Turn","t0":2450,"t1":2480,"r0":135.6,"r1":136.6},
{"ss":"Turn","t0":2520,"t1":2560,"r0":135.6,"r1":136.6},
{"ss":"Turn","t0":2660,"t1":2730,"r0":135.6,"r1":136.6},
{"ss":"Turn","t0":2800,"t1":2860,"r0":135.6,"r1":136.6},
{"ss":"Turn","t0":2920,"t1":2980,"r0":135.6,"r1":136.6},
{"ss":"Turn","t0":3050,"t1":3110,"r0":135.6,"r1":136.6},
{"ss":"Turn","t0":3180,"t1":3240,"r0":135.6,"r1":136.6},
{"ss":"Turn","t0":3300,"t1":3380,"r0":135.6,"r1":136.6},
{"ss":"Turn","t0":3440,"t1":3500,"r0":135.6,"r1":136.6},
{"ss":"Turn","t0":3600,"t1":3680,"r0":135.6,"r1":136.6},
{"ss":"Turn","t0":3760,"t1":3820,"r0":135.6,"r1":136.6},
{"ss":"Turn","t0":3900,"t1":3960,"r0":135.6,"r1":136.6},
{"ss":"Turn","t0":4050,"t1":4110,"r0":135.6,"r1":136.6},
{"ss":"Turn","t0":4200,"t1":4260,"r0":135.6,"r1":136.6},
{"ss":"Turn","t0":4330,"t1":4400,"r0":135.6,"r1":136.6},
{"ss":"Turn","t0":4560,"t1":4620,"r0":135.6,"r1":136.6},
{"ss":"Turn","t0":4800,"t1":5016,"r0":135.6,"r1":136.6},
{"ss":"Coil","t0":60,"t1":140,"r0":132.6,"r1":134.4},
{"ss":"Coil","t0":250,"t1":280,"r0":132.6,"r1":134.4},
{"ss":"Coil","t0":540,"t1":560,"r0":132.6,"r1":134.4},
{"ss":"Coil","t0":850,"t1":880,"r0":132.6,"r1":134.4},
{"ss":"Coil","t0":1100,"t1":1120,"r0":132.6,"r1":134.4},
{"ss":"Coil","t0":1400,"t1":1430,"r0":132.6,"r1":134.4},
{"ss":"Coil","t0":3860,"t1":3940,"r0":132.6,"r1":134.4},
{"ss":"Coil","t0":4000,"t1":4030,"r0":132.6,"r1":134.4},
{"ss":"Coil","t0":4650,"t1":4730,"r0":132.6,"r1":134.4},
{"ss":"Coil","t0":4900,"t1":4940,"r0":132.6,"r1":134.4},
{"ss":"Turn","t0":20,"t1":180,"r0":112.6,"r1":113.4},
{"ss":"Turn","t0":250,"t1":420,"r0":112.6,"r1":113.4},
{"ss":"Turn","t0":500,"t1":700,"r0":112.6,"r1":113.4},
{"ss":"Turn","t0":780,"t1":900,"r0":112.6,"r1":113.4},
{"ss":"Turn","t0":1000,"t1":1200,"r0":112.6,"r1":113.4},
{"ss":"Turn","t0":1300,"t1":1500,"r0":112.6,"r1":113.4},
{"ss":"Turn","t0":1600,"t1":1800,"r0":112.6,"r1":113.4},
{"ss":"Turn","t0":1900,"t1":2100,"r0":112.6,"r1":113.4},
{"ss":"Turn","t0":2200,"t1":2300,"r0":112.6,"r1":113.4},
{"ss":"Turn","t0":2380,"t1":2560,"r0":112.6,"r1":113.4},
{"ss":"Turn","t0":2620,"t1":2780,"r0":112.6,"r1":113.4},
{"ss":"Turn","t0":2850,"t1":3050,"r0":112.6,"r1":113.4},
{"ss":"Turn","t0":3150,"t1":3300,"r0":112.6,"r1":113.4},
{"ss":"Turn","t0":3400,"t1":3600,"r0":112.6,"r1":113.4},
{"ss":"Turn","t0":3700,"t1":3880,"r0":112.6,"r1":113.4},
{"ss":"Turn","t0":3950,"t1":4150,"r0":112.6,"r1":113.4},
{"ss":"Turn","t0":4250,"t1":4450,"r0":112.6,"r1":113.4},
{"ss":"Turn","t0":4550,"t1":4750,"r0":112.6,"r1":113.4},
{"ss":"Turn","t0":4820,"t1":5016,"r0":112.6,"r1":113.4},
{"ss":"A-helix","t0":0,"t1":30,"r0":110,"r1":110.9},
{"ss":"A-helix","t0":160,"t1":180,"r0":110,"r1":110.9},
{"ss":"A-helix","t0":420,"t1":440,"r0":110,"r1":110.9},
{"ss":"A-helix","t0":700,"t1":720,"r0":110,"r1":110.9},
{"ss":"A-helix","t0":1050,"t1":1070,"r0":110,"r1":110.9},
{"ss":"A-helix","t0":1500,"t1":1520,"r0":110,"r1":110.9},
{"ss":"A-helix","t0":1900,"t1":1920,"r0":110,"r1":110.9},
{"ss":"A-helix","t0":2880,"t1":2900,"r0":110,"r1":110.9},
{"ss":"A-helix","t0":3100,"t1":3120,"r0":110,"r1":110.9},
{"ss":"A-helix","t0":3400,"t1":3420,"r0":110,"r1":110.9},
{"ss":"A-helix","t0":3900,"t1":3920,"r0":110,"r1":110.9},
{"ss":"A-helix","t0":4300,"t1":4320,"r0":110,"r1":110.9},
{"ss":"A-helix","t0":4700,"t1":4720,"r0":110,"r1":110.9},
{"ss":"Turn","t0":2550,"t1":2570,"r0":103.6,"r1":104.6},
{"ss":"Turn","t0":2950,"t1":2970,"r0":103.6,"r1":104.6},
{"ss":"Turn","t0":3350,"t1":3365,"r0":103.6,"r1":104.6},
{"ss":"Turn","t0":3950,"t1":3970,"r0":103.6,"r1":104.6},
{"ss":"Turn","t0":4300,"t1":4315,"r0":103.6,"r1":104.6},
{"ss":"Turn","t0":4650,"t1":4670,"r0":103.6,"r1":104.6},
{"ss":"Bend","t0":-12,"t1":60,"r0":101.5,"r1":103.6},
{"ss":"Bend","t0":240,"t1":300,"r0":101.5,"r1":103.6},
{"ss":"Bend","t0":520,"t1":560,"r0":101.5,"r1":103.6},
{"ss":"Bend","t0":703,"t1":748,"r0":101.5,"r1":103.6},
{"ss":"Bend","t0":900,"t1":960,"r0":101.5,"r1":103.6},
{"ss":"Bend","t0":1406,"t1":1525,"r0":101.5,"r1":103.6},
{"ss":"Bend","t0":1700,"t1":1760,"r0":101.5,"r1":103.6},
{"ss":"Bend","t0":1950,"t1":2050,"r0":101.5,"r1":103.6},
{"ss":"Bend","t0":2300,"t1":2400,"r0":101.5,"r1":103.6},
{"ss":"Bend","t0":2600,"t1":2700,"r0":101.5,"r1":103.6},
{"ss":"Bend","t0":2900,"t1":2950,"r0":101.5,"r1":103.6},
{"ss":"Bend","t0":3150,"t1":3250,"r0":101.5,"r1":103.6},
{"ss":"Bend","t0":3450,"t1":3500,"r0":101.5,"r1":103.6},
{"ss":"Bend","t0":3700,"t1":3780,"r0":101.5,"r1":103.6},
{"ss":"Bend","t0":3980,"t1":4060,"r0":101.5,"r1":103.6},
{"ss":"Bend","t0":4250,"t1":4300,"r0":101.5,"r1":103.6},
{"ss":"Bend","t0":4500,"t1":4600,"r0":101.5,"r1":103.6},
{"ss":"Bend","t0":4800,"t1":4880,"r0":101.5,"r1":103.6},
{"ss":"Bend","t0":4950,"t1":5016,"r0":101.5,"r1":103.6},
{"ss":"Bend","t0":100,"t1":160,"r0":99.8,"r1":101.5},
{"ss":"Bend","t0":380,"t1":420,"r0":99.8,"r1":101.5},
{"ss":"Bend","t0":800,"t1":850,"r0":99.8,"r1":101.5},
{"ss":"Bend","t0":1200,"t1":1260,"r0":99.8,"r1":101.5},
{"ss":"Bend","t0":1600,"t1":1640,"r0":99.8,"r1":101.5},
{"ss":"Bend","t0":2150,"t1":2200,"r0":99.8,"r1":101.5},
{"ss":"Bend","t0":2750,"t1":2800,"r0":99.8,"r1":101.5},
{"ss":"Bend","t0":3050,"t1":3100,"r0":99.8,"r1":101.5},
{"ss":"Bend","t0":3600,"t1":3650,"r0":99.8,"r1":101.5},
{"ss":"Bend","t0":4150,"t1":4200,"r0":99.8,"r1":101.5},
{"ss":"Bend","t0":4700,"t1":4750,"r0":99.8,"r1":101.5},
{"ss":"3-helix","t0":120,"t1":150,"r0":99.8,"r1":103.6},
{"ss":"3-helix","t0":449,"t1":479,"r0":99.8,"r1":103.6},
{"ss":"3-helix","t0":1107,"t1":1166,"r0":99.8,"r1":103.6},
{"ss":"3-helix","t0":1346,"t1":1376,"r0":99.8,"r1":103.6},
{"ss":"3-helix","t0":1800,"t1":1830,"r0":99.8,"r1":103.6},
{"ss":"3-helix","t0":2450,"t1":2480,"r0":99.8,"r1":103.6},
{"ss":"3-helix","t0":2820,"t1":2860,"r0":99.8,"r1":103.6},
{"ss":"3-helix","t0":3300,"t1":3330,"r0":99.8,"r1":103.6},
{"ss":"3-helix","t0":3560,"t1":3590,"r0":99.8,"r1":103.6},
{"ss":"3-helix","t0":3860,"t1":3890,"r0":99.8,"r1":103.6},
{"ss":"3-helix","t0":4400,"t1":4430,"r0":99.8,"r1":103.6},
{"ss":"3-helix","t0":4650,"t1":4680,"r0":99.8,"r1":103.6},
{"ss":"3-helix","t0":4900,"t1":4930,"r0":99.8,"r1":103.6},
{"ss":"A-helix","t0":4120,"t1":4140,"r0":101,"r1":103.6},
{"ss":"Bend","t0":225,"t1":260,"r0":96.5,"r1":97.5},
{"ss":"Bend","t0":4180,"t1":4200,"r0":96.5,"r1":97.5},
{"ss":"Bend","t0":4700,"t1":4720,"r0":96.5,"r1":97.5},
{"ss":"Turn","t0":-12,"t1":100,"r0":92.5,"r1":93.3},
{"ss":"Turn","t0":150,"t1":300,"r0":92.5,"r1":93.3},
{"ss":"Turn","t0":380,"t1":500,"r0":92.5,"r1":93.3},
{"ss":"Turn","t0":560,"t1":700,"r0":92.5,"r1":93.3},
{"ss":"Turn","t0":760,"t1":950,"r0":92.5,"r1":93.3},
{"ss":"Turn","t0":1000,"t1":1200,"r0":92.5,"r1":93.3},
{"ss":"Turn","t0":1250,"t1":1400,"r0":92.5,"r1":93.3},
{"ss":"Turn","t0":1450,"t1":1650,"r0":92.5,"r1":93.3},
{"ss":"Turn","t0":1700,"t1":1900,"r0":92.5,"r1":93.3},
{"ss":"Turn","t0":1950,"t1":2200,"r0":92.5,"r1":93.3},
{"ss":"Turn","t0":2250,"t1":2450,"r0":92.5,"r1":93.3},
{"ss":"Turn","t0":2500,"t1":2700,"r0":92.5,"r1":93.3},
{"ss":"Turn","t0":2750,"t1":2950,"r0":92.5,"r1":93.3},
{"ss":"Turn","t0":3000,"t1":3200,"r0":92.5,"r1":93.3},
{"ss":"Turn","t0":3250,"t1":3450,"r0":92.5,"r1":93.3},
{"ss":"Turn","t0":3500,"t1":3700,"r0":92.5,"r1":93.3},
{"ss":"Turn","t0":3750,"t1":3950,"r0":92.5,"r1":93.3},
{"ss":"Turn","t0":4000,"t1":4200,"r0":92.5,"r1":93.3},
{"ss":"Turn","t0":4250,"t1":4450,"r0":92.5,"r1":93.3},
{"ss":"Turn","t0":4500,"t1":4700,"r0":92.5,"r1":93.3},
{"ss":"Turn","t0":4750,"t1":5016,"r0":92.5,"r1":93.3},
{"ss":"Turn","t0":50,"t1":80,"r0":93.3,"r1":94.3},
{"ss":"Turn","t0":200,"t1":230,"r0":93.3,"r1":94.3},
{"ss":"Turn","t0":450,"t1":480,"r0":93.3,"r1":94.3},
{"ss":"Turn","t0":600,"t1":640,"r0":93.3,"r1":94.3},
{"ss":"Turn","t0":850,"t1":900,"r0":93.3,"r1":94.3},
{"ss":"Turn","t0":1100,"t1":1140,"r0":93.3,"r1":94.3},
{"ss":"Turn","t0":1300,"t1":1330,"r0":93.3,"r1":94.3},
{"ss":"Turn","t0":1500,"t1":1560,"r0":93.3,"r1":94.3},
{"ss":"Turn","t0":1800,"t1":1830,"r0":93.3,"r1":94.3},
{"ss":"Turn","t0":2100,"t1":2140,"r0":93.3,"r1":94.3},
{"ss":"Turn","t0":2400,"t1":2440,"r0":93.3,"r1":94.3},
{"ss":"Turn","t0":2700,"t1":2730,"r0":93.3,"r1":94.3},
{"ss":"Turn","t0":3000,"t1":3050,"r0":93.3,"r1":94.3},
{"ss":"Turn","t0":3300,"t1":3330,"r0":93.3,"r1":94.3},
{"ss":"Turn","t0":3600,"t1":3650,"r0":93.3,"r1":94.3},
{"ss":"Turn","t0":3900,"t1":3930,"r0":93.3,"r1":94.3},
{"ss":"Turn","t0":4200,"t1":4240,"r0":93.3,"r1":94.3},
{"ss":"Turn","t0":4500,"t1":4530,"r0":93.3,"r1":94.3},
{"ss":"Turn","t0":4800,"t1":4840,"r0":93.3,"r1":94.3},
{"ss":"A-helix","t0":300,"t1":330,"r0":89.7,"r1":90.5},
{"ss":"A-helix","t0":1000,"t1":1050,"r0":89.7,"r1":90.5},
{"ss":"A-helix","t0":1600,"t1":1630,"r0":89.7,"r1":90.5},
{"ss":"A-helix","t0":2300,"t1":2330,"r0":89.7,"r1":90.5},
{"ss":"A-helix","t0":3200,"t1":3230,"r0":89.7,"r1":90.5},
{"ss":"A-helix","t0":3800,"t1":3830,"r0":89.7,"r1":90.5},
{"ss":"A-helix","t0":4400,"t1":4430,"r0":89.7,"r1":90.5},
{"ss":"Bend","t0":389,"t1":460,"r0":90.5,"r1":91.5},
{"ss":"Bend","t0":700,"t1":720,"r0":90.5,"r1":91.5},
{"ss":"Turn","t0":90,"t1":105,"r0":83.5,"r1":84.5},
{"ss":"Turn","t0":1465,"t1":1480,"r0":84.5,"r1":85.5},
{"ss":"3-helix","t0":2815,"t1":2835,"r0":78,"r1":80.5},
{"ss":"3-helix","t0":2935,"t1":2950,"r0":78,"r1":79.5},
{"ss":"Coil","t0":-12,"t1":40,"r0":73.8,"r1":74.8},
{"ss":"Coil","t0":100,"t1":130,"r0":73.8,"r1":74.8},
{"ss":"Coil","t0":150,"t1":250,"r0":73.8,"r1":74.8},
{"ss":"Coil","t0":450,"t1":500,"r0":73.8,"r1":74.8},
{"ss":"Coil","t0":900,"t1":960,"r0":73.8,"r1":74.8},
{"ss":"Coil","t0":1300,"t1":1330,"r0":73.8,"r1":74.8},
{"ss":"Coil","t0":1800,"t1":1850,"r0":73.8,"r1":74.8},
{"ss":"Coil","t0":2600,"t1":2650,"r0":73.8,"r1":74.8},
{"ss":"Coil","t0":3050,"t1":3100,"r0":73.8,"r1":74.8},
{"ss":"Coil","t0":3700,"t1":3750,"r0":73.8,"r1":74.8},
{"ss":"Coil","t0":4500,"t1":4560,"r0":73.8,"r1":74.8},
{"ss":"Turn","t0":150,"t1":170,"r0":71.7,"r1":72.7},
{"ss":"Turn","t0":300,"t1":330,"r0":71.7,"r1":72.7},
{"ss":"Turn","t0":400,"t1":440,"r0":71.7,"r1":72.7},
{"ss":"Turn","t0":570,"t1":600,"r0":71.7,"r1":72.7},
{"ss":"Turn","t0":650,"t1":680,"r0":71.7,"r1":72.7},
{"ss":"Turn","t0":810,"t1":860,"r0":71.7,"r1":72.7},
{"ss":"Turn","t0":1000,"t1":1020,"r0":71.7,"r1":72.7},
{"ss":"Turn","t0":1600,"t1":1630,"r0":71.7,"r1":72.7},
{"ss":"Turn","t0":1900,"t1":1930,"r0":71.7,"r1":72.7},
{"ss":"Turn","t0":2200,"t1":2240,"r0":71.7,"r1":72.7},
{"ss":"Turn","t0":2500,"t1":2530,"r0":71.7,"r1":72.7},
{"ss":"Turn","t0":2900,"t1":2930,"r0":71.7,"r1":72.7},
{"ss":"Turn","t0":3300,"t1":3330,"r0":71.7,"r1":72.7},
{"ss":"Turn","t0":3700,"t1":3730,"r0":71.7,"r1":72.7},
{"ss":"Turn","t0":4100,"t1":4130,"r0":71.7,"r1":72.7},
{"ss":"Turn","t0":4500,"t1":4530,"r0":71.7,"r1":72.7},
{"ss":"Turn","t0":4900,"t1":4930,"r0":71.7,"r1":72.7},
{"ss":"Turn","t0":400,"t1":420,"r0":69.7,"r1":71.7},
{"ss":"Turn","t0":820,"t1":840,"r0":69.7,"r1":71.7},
{"ss":"Turn","t0":1430,"t1":1450,"r0":69.7,"r1":71.7},
{"ss":"Turn","t0":3980,"t1":3995,"r0":65.7,"r1":71.7},
{"ss":"Coil","t0":900,"t1":940,"r0":65.7,"r1":66.5},
{"ss":"Coil","t0":1300,"t1":1320,"r0":65.7,"r1":66.5},
{"ss":"Coil","t0":2100,"t1":2150,"r0":65.7,"r1":66.5},
{"ss":"Coil","t0":2800,"t1":2830,"r0":65.7,"r1":66.5},
{"ss":"Coil","t0":3600,"t1":3640,"r0":65.7,"r1":66.5},
{"ss":"Coil","t0":4200,"t1":4240,"r0":65.7,"r1":66.5},
{"ss":"Coil","t0":4600,"t1":4650,"r0":65.7,"r1":66.5},
{"ss":"Coil","t0":4900,"t1":4950,"r0":65.7,"r1":66.5},
{"ss":"Bend","t0":4400,"t1":4420,"r0":66.2,"r1":67},
{"ss":"Bend","t0":4600,"t1":4615,"r0":66.2,"r1":67},
{"ss":"Bend","t0":4800,"t1":4820,"r0":66.2,"r1":67},
{"ss":"Turn","t0":-12,"t1":120,"r0":59.7,"r1":61},
{"ss":"Coil","t0":150,"t1":200,"r0":60.3,"r1":61.5},
{"ss":"Coil","t0":350,"t1":420,"r0":60.3,"r1":61.5},
{"ss":"Coil","t0":620,"t1":660,"r0":60.3,"r1":61.5},
{"ss":"Coil","t0":900,"t1":960,"r0":60.3,"r1":61.5},
{"ss":"Coil","t0":1150,"t1":1200,"r0":60.3,"r1":61.5},
{"ss":"Coil","t0":1450,"t1":1500,"r0":60.3,"r1":61.5},
{"ss":"Coil","t0":1700,"t1":1750,"r0":60.3,"r1":61.5},
{"ss":"Coil","t0":2000,"t1":2060,"r0":60.3,"r1":61.5},
{"ss":"Coil","t0":2350,"t1":2400,"r0":60.3,"r1":61.5},
{"ss":"Coil","t0":2700,"t1":2760,"r0":60.3,"r1":61.5},
{"ss":"Coil","t0":3100,"t1":3150,"r0":60.3,"r1":61.5},
{"ss":"Coil","t0":3500,"t1":3560,"r0":60.3,"r1":61.5},
{"ss":"Coil","t0":3900,"t1":3950,"r0":60.3,"r1":61.5},
{"ss":"Coil","t0":4300,"t1":4360,"r0":60.3,"r1":61.5},
{"ss":"Coil","t0":4700,"t1":4750,"r0":60.3,"r1":61.5},
{"ss":"Turn","t0":700,"t1":720,"r0":59.3,"r1":60.3},
{"ss":"Turn","t0":1850,"t1":1870,"r0":59.3,"r1":60.3},
{"ss":"Turn","t0":2400,"t1":2420,"r0":59.3,"r1":60.3},
{"ss":"Turn","t0":3050,"t1":3065,"r0":59.3,"r1":60.3},
{"ss":"Turn","t0":3750,"t1":3765,"r0":59.3,"r1":60.3},
{"ss":"Turn","t0":4060,"t1":4080,"r0":59.3,"r1":60.3},
{"ss":"Turn","t0":4450,"t1":4470,"r0":59.3,"r1":60.3},
{"ss":"Coil","t0":600,"t1":700,"r0":40.8,"r1":41.6},
{"ss":"Coil","t0":900,"t1":1000,"r0":40.8,"r1":41.6},
{"ss":"Coil","t0":1300,"t1":1450,"r0":40.8,"r1":41.6},
{"ss":"Coil","t0":1600,"t1":1700,"r0":40.8,"r1":41.6},
{"ss":"Coil","t0":2000,"t1":2100,"r0":40.8,"r1":41.6},
{"ss":"Coil","t0":2500,"t1":2600,"r0":40.8,"r1":41.6},
{"ss":"Coil","t0":2900,"t1":2950,"r0":40.8,"r1":41.6},
{"ss":"Coil","t0":3300,"t1":3400,"r0":40.8,"r1":41.6},
{"ss":"Coil","t0":4000,"t1":4100,"r0":40.8,"r1":41.6},
{"ss":"Coil","t0":4500,"t1":4600,"r0":40.8,"r1":41.6},
{"ss":"Turn","t0":350,"t1":370,"r0":39.8,"r1":40.8},
{"ss":"Turn","t0":700,"t1":720,"r0":39.8,"r1":40.8},
{"ss":"Turn","t0":1050,"t1":1080,"r0":39.8,"r1":40.8},
{"ss":"Turn","t0":2700,"t1":2720,"r0":39.8,"r1":40.8},
{"ss":"Turn","t0":3250,"t1":3270,"r0":39.8,"r1":40.8},
{"ss":"Turn","t0":4800,"t1":4820,"r0":39.8,"r1":40.8},
{"ss":"Turn","t0":150,"t1":170,"r0":36.6,"r1":37.6},
{"ss":"Turn","t0":410,"t1":430,"r0":36.6,"r1":37.6},
{"ss":"Turn","t0":560,"t1":580,"r0":36.6,"r1":37.6},
{"ss":"Turn","t0":900,"t1":920,"r0":36.6,"r1":37.6},
{"ss":"Turn","t0":1110,"t1":1130,"r0":36.6,"r1":37.6},
{"ss":"Turn","t0":1400,"t1":1420,"r0":36.6,"r1":37.6},
{"ss":"Turn","t0":1600,"t1":1620,"r0":36.6,"r1":37.6},
{"ss":"Turn","t0":2500,"t1":2520,"r0":36.6,"r1":37.6},
{"ss":"Turn","t0":2750,"t1":2770,"r0":36.6,"r1":37.6},
{"ss":"Turn","t0":3100,"t1":3120,"r0":36.6,"r1":37.6},
{"ss":"Turn","t0":3600,"t1":3620,"r0":36.6,"r1":37.6},
{"ss":"Turn","t0":4000,"t1":4020,"r0":36.6,"r1":37.6},
{"ss":"Turn","t0":4300,"t1":4320,"r0":36.6,"r1":37.6},
{"ss":"Turn","t0":4520,"t1":4540,"r0":36.6,"r1":37.6},
{"ss":"Turn","t0":4700,"t1":4720,"r0":36.6,"r1":37.6},
{"ss":"Bend","t0":300,"t1":320,"r0":36.6,"r1":37.6},
{"ss":"Bend","t0":800,"t1":820,"r0":36.6,"r1":37.6},
{"ss":"Bend","t0":1250,"t1":1270,"r0":36.6,"r1":37.6},
{"ss":"Bend","t0":2000,"t1":2020,"r0":36.6,"r1":37.6},
{"ss":"Bend","t0":3300,"t1":3320,"r0":36.6,"r1":37.6},
{"ss":"Bend","t0":4900,"t1":4920,"r0":36.6,"r1":37.6},
{"ss":"Turn","t0":852,"t1":867,"r0":35.6,"r1":37.6},
{"ss":"Turn","t0":4220,"t1":4240,"r0":35.6,"r1":37.6},
{"ss":"3-helix","t0":0,"t1":60,"r0":20.6,"r1":22.9},
{"ss":"3-helix","t0":270,"t1":315,"r0":20.6,"r1":22.9},
{"ss":"3-helix","t0":520,"t1":560,"r0":20.6,"r1":22.9},
{"ss":"3-helix","t0":703,"t1":748,"r0":20.6,"r1":22.9},
{"ss":"3-helix","t0":1047,"t1":1107,"r0":20.6,"r1":22.9},
{"ss":"3-helix","t0":1346,"t1":1421,"r0":20.6,"r1":22.9},
{"ss":"3-helix","t0":1525,"t1":1555,"r0":20.6,"r1":22.9},
{"ss":"3-helix","t0":1700,"t1":1760,"r0":20.6,"r1":22.9},
{"ss":"3-helix","t0":2050,"t1":2100,"r0":20.6,"r1":22.9},
{"ss":"3-helix","t0":2300,"t1":2350,"r0":20.6,"r1":22.9},
{"ss":"3-helix","t0":2600,"t1":2650,"r0":20.6,"r1":22.9},
{"ss":"3-helix","t0":2900,"t1":2960,"r0":20.6,"r1":22.9},
{"ss":"3-helix","t0":3200,"t1":3300,"r0":20.6,"r1":22.9},
{"ss":"3-helix","t0":3600,"t1":3650,"r0":20.6,"r1":22.9},
{"ss":"3-helix","t0":3900,"t1":3960,"r0":20.6,"r1":22.9},
{"ss":"3-helix","t0":4200,"t1":4260,"r0":20.6,"r1":22.9},
{"ss":"3-helix","t0":4500,"t1":4560,"r0":20.6,"r1":22.9},
{"ss":"3-helix","t0":4800,"t1":4850,"r0":20.6,"r1":22.9},
{"ss":"Bend","t0":60,"t1":100,"r0":22.9,"r1":23.7},
{"ss":"Bend","t0":150,"t1":250,"r0":22.9,"r1":23.7},
{"ss":"Bend","t0":330,"t1":380,"r0":22.9,"r1":23.7},
{"ss":"Bend","t0":420,"t1":470,"r0":22.9,"r1":23.7},
{"ss":"Bend","t0":600,"t1":650,"r0":22.9,"r1":23.7},
{"ss":"Bend","t0":800,"t1":900,"r0":22.9,"r1":23.7},
{"ss":"Bend","t0":1150,"t1":1200,"r0":22.9,"r1":23.7},
{"ss":"Bend","t0":1450,"t1":1500,"r0":22.9,"r1":23.7},
{"ss":"Bend","t0":1600,"t1":1650,"r0":22.9,"r1":23.7},
{"ss":"Bend","t0":1800,"t1":1850,"r0":22.9,"r1":23.7},
{"ss":"Bend","t0":1950,"t1":2000,"r0":22.9,"r1":23.7},
{"ss":"Bend","t0":2150,"t1":2250,"r0":22.9,"r1":23.7},
{"ss":"Bend","t0":2400,"t1":2450,"r0":22.9,"r1":23.7},
{"ss":"Bend","t0":2700,"t1":2780,"r0":22.9,"r1":23.7},
{"ss":"Bend","t0":3000,"t1":3100,"r0":22.9,"r1":23.7},
{"ss":"Bend","t0":3400,"t1":3500,"r0":22.9,"r1":23.7},
{"ss":"Bend","t0":3700,"t1":3800,"r0":22.9,"r1":23.7},
{"ss":"Bend","t0":4000,"t1":4100,"r0":22.9,"r1":23.7},
{"ss":"Bend","t0":4300,"t1":4400,"r0":22.9,"r1":23.7},
{"ss":"Bend","t0":4600,"t1":4700,"r0":22.9,"r1":23.7},
{"ss":"Bend","t0":4900,"t1":5016,"r0":22.9,"r1":23.7},
{"ss":"Coil","t0":2500,"t1":2560,"r0":20.6,"r1":21.4},
{"ss":"Coil","t0":3350,"t1":3400,"r0":20.6,"r1":21.4},
{"ss":"Coil","t0":4100,"t1":4150,"r0":20.6,"r1":21.4},
{"ss":"Coil","t0":4950,"t1":5016,"r0":20.6,"r1":21.4},
{"ss":"Turn","t0":120,"t1":144,"r0":3.4,"r1":4.4},
{"ss":"Turn","t0":330,"t1":360,"r0":3.4,"r1":4.4},
{"ss":"Turn","t0":942,"t1":972,"r0":3.4,"r1":4.4},
{"ss":"Turn","t0":1286,"t1":1316,"r0":3.4,"r1":4.4},
{"ss":"Turn","t0":1645,"t1":1675,"r0":3.4,"r1":4.4},
{"ss":"Turn","t0":2200,"t1":2220,"r0":3.4,"r1":4.4},
{"ss":"Turn","t0":2700,"t1":2720,"r0":3.4,"r1":4.4},
{"ss":"Turn","t0":3300,"t1":3320,"r0":3.4,"r1":4.4},
{"ss":"Turn","t0":3800,"t1":3820,"r0":3.4,"r1":4.4},
{"ss":"Turn","t0":4100,"t1":4120,"r0":3.4,"r1":4.4},
{"ss":"Turn","t0":4500,"t1":4520,"r0":3.4,"r1":4.4},
{"ss":"3-helix","t0":4370,"t1":4390,"r0":3.4,"r1":4.4},
{"ss":"Turn","t0":2700,"t1":2720,"r0":15,"r1":16},
{"ss":"Turn","t0":3200,"t1":3220,"r0":15,"r1":16},
{"ss":"Turn","t0":4000,"t1":4020,"r0":15,"r1":16}
]},
"mark":{"type":"rect","strokeWidth":0,"clip":true},
"encoding":{
"x":{"field":"t0","type":"quantitative","scale":{"domain":[-12,5016],"nice":false,"zero":false},
"axis":{"title":"Time (ps)","values":[0,200,400,600,800,1000,1200,1400,1600,1800,2000,2200,2400,2600,2800,3000,3200,3400,3600,3800,4000,4200,4400,4600,4800,5000],"format":"d","labelExpr":"datum.value % 1000 === 0 ? datum.label : ''","tickSize":{"condition":{"test":"datum.value % 1000 === 0","value":11},"value":5},"labelPadding":4,"titlePadding":10}},
"x2":{"field":"t1"},
"y":{"field":"r0","type":"quantitative","scale":{"domain":[1.4,205.7],"nice":false,"zero":false},
"axis":{"title":"Residue","values":[10,20,30,40,50,60,70,80,90,100,110,120,130,140,150,160,170,180,190,200],"format":"d","labelExpr":"datum.value % 40 === 0 ? datum.label : ''","tickSize":{"condition":{"test":"datum.value % 40 === 0","value":11},"value":5},"labelPadding":6,"titlePadding":12}},
"y2":{"field":"r1"},
"color":{"field":"ss","type":"nominal","scale":{"domain":["Coil","Bend","Turn","A-helix","3-helix"],"range":["#ffffff","#137a3a","#efe845","#2f4d9e","#808080"]},
"legend":{"title":null,"orient":"none","legendX":0,"legendY":371,"columns":2,"columnPadding":161}}
}}
]
}
